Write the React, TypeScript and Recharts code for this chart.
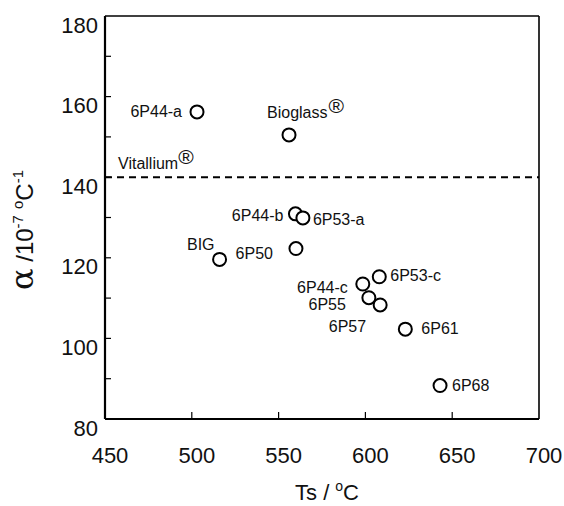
import React from 'react';
import { ScatterChart, Scatter, XAxis, YAxis, ReferenceLine } from 'recharts';

// glass compositions: dilatometric softening point vs thermal expansion
const names = ['6P44-a', 'Bioglass', '6P44-b', '6P53-a', 'BIG', '6P50', '6P53-c', '6P44-c', '6P55', '6P57', '6P61', '6P68'];
const softening = [503, 556, 559.7, 564, 516, 560, 608, 598.5, 602, 608.5, 623, 643];
const alpha = [156.2, 150.5, 130.9, 129.9, 119.6, 122.3, 115.3, 113.5, 110.1, 108.3, 102.3, 88.3];

const vitalliumAlpha = 140;

const xTicks = [450, 500, 550, 600, 650, 700];
const yTicks = [80, 90, 100, 110, 120, 130, 140, 150, 160, 170, 180];

const data = names.map((name, i) => ({ name, ts: softening[i], alpha: alpha[i] }));

// where each point's label sits relative to its marker
const labelPos: Record<string, [string, number, number]> = {
  '6P44-a': ['end', -15, 5],
  Bioglass: ['start', -22, -17],
  '6P44-b': ['end', -12, 7],
  '6P53-a': ['start', 10, 7],
  BIG: ['end', -5, -9],
  '6P50': ['end', -23, 10],
  '6P53-c': ['start', 11, 4],
  '6P44-c': ['end', -15, 9],
  '6P55': ['end', -23, 12],
  '6P57': ['end', -14, 27],
  '6P61': ['start', 16, 5],
  '6P68': ['start', 12, 5],
};

const font = 'Liberation Sans, Arial, sans-serif';

function Marker(props: any) {
  const { cx, cy, payload } = props;
  const [anchor, dx, dy] = labelPos[payload.name];
  return (
    <g>
      <circle cx={cx} cy={cy} r={6.5} fill="#fff" stroke="#000" strokeWidth={2} />
      <text x={cx + dx} y={cy + dy} textAnchor={anchor} fontSize={16} fontFamily={font} fill="#111">
        {payload.name}
        {payload.name === 'Bioglass' && (
          <tspan fontSize={21} dx={1} dy={-5}>®</tspan>
        )}
      </text>
    </g>
  );
}

function YTick(props: any) {
  const { x, y, payload } = props;
  const v = payload.value;
  return (
    <g>
      {v > 80 && v < 180 && <line x1={x} x2={x + 6} y1={y} y2={y} stroke="#000" strokeWidth={1.2} />}
      {v % 20 === 0 && (
        <text x={x - 7} y={y + 16.5} textAnchor="end" fontSize={22} fontFamily={font} fill="#111">
          {v}
        </text>
      )}
    </g>
  );
}

function XTick(props: any) {
  const { x, y, payload } = props;
  const v = payload.value;
  return (
    <g>
      {v > 450 && v < 700 && <line x1={x} x2={x} y1={y} y2={y - 7} stroke="#000" strokeWidth={1.2} />}
      <text x={x + 5} y={y + 44} textAnchor="middle" fontSize={22} fontFamily={font} fill="#111">
        {v}
      </text>
    </g>
  );
}

function VitalliumLabel(props: any) {
  const { viewBox } = props;
  return (
    <text x={viewBox.x + 13} y={viewBox.y - 8} fontSize={16} fontFamily={font} fill="#111">
      Vitallium
      <tspan fontSize={21} dx={0} dy={-5}>®</tspan>
    </text>
  );
}

function YTitle(props: any) {
  const { viewBox } = props;
  const cx = viewBox.x + 33;
  const cy = 230;
  return (
    <text
      x={cx}
      y={cy}
      transform={`rotate(-90 ${cx} ${cy})`}
      textAnchor="middle"
      fontSize={24}
      fontFamily={font}
      fill="#111"
    >
      <tspan fontSize={32} fontFamily="DejaVu Serif, serif">α</tspan>
      <tspan> /10</tspan>
      <tspan fontSize={15} dy={-10}>-7</tspan>
      <tspan fontSize={15} dx={6}>o</tspan>
      <tspan dy={10}>C</tspan>
      <tspan fontSize={15} dy={-10}>-1</tspan>
    </text>
  );
}

function XTitle(props: any) {
  const { viewBox } = props;
  const cx = viewBox.x + viewBox.width / 2 + 5;
  return (
    <text x={cx} y={500} textAnchor="middle" fontSize={22} fontFamily={font} fill="#111">
      Ts /
      <tspan fontSize={14} dx={6} dy={-9}>o</tspan>
      <tspan dy={9}>C</tspan>
    </text>
  );
}

export default function App() {
  return (
    <div style={{ position: 'absolute', left: 0, top: 0, background: '#fff' }}>
      <ScatterChart width={564} height={506} margin={{ top: 16, right: 25, bottom: 0, left: 0 }}>
        <XAxis
          type="number"
          dataKey="ts"
          domain={[450, 700]}
          ticks={xTicks}
          height={87}
          tickSize={0}
          tickMargin={0}
          tickLine={false}
          axisLine={{ stroke: '#000', strokeWidth: 2.2 }}
          tick={<XTick />}
          interval={0}
          label={<XTitle />}
        />
        <YAxis
          type="number"
          dataKey="alpha"
          domain={[80, 180]}
          ticks={yTicks}
          width={105}
          tickSize={0}
          tickMargin={0}
          tickLine={false}
          axisLine={{ stroke: '#000', strokeWidth: 2.2 }}
          tick={<YTick />}
          interval={0}
          label={<YTitle />}
        />
        <ReferenceLine y={180} stroke="#000" strokeWidth={1.6} />
        <ReferenceLine x={700} stroke="#000" strokeWidth={1.6} />
        <ReferenceLine
          y={vitalliumAlpha}
          stroke="#000"
          strokeWidth={2}
          strokeDasharray="7 5"
          label={<VitalliumLabel />}
        />
        <Scatter data={data} shape={<Marker />} isAnimationActive={false} />
      </ScatterChart>
    </div>
  );
}
